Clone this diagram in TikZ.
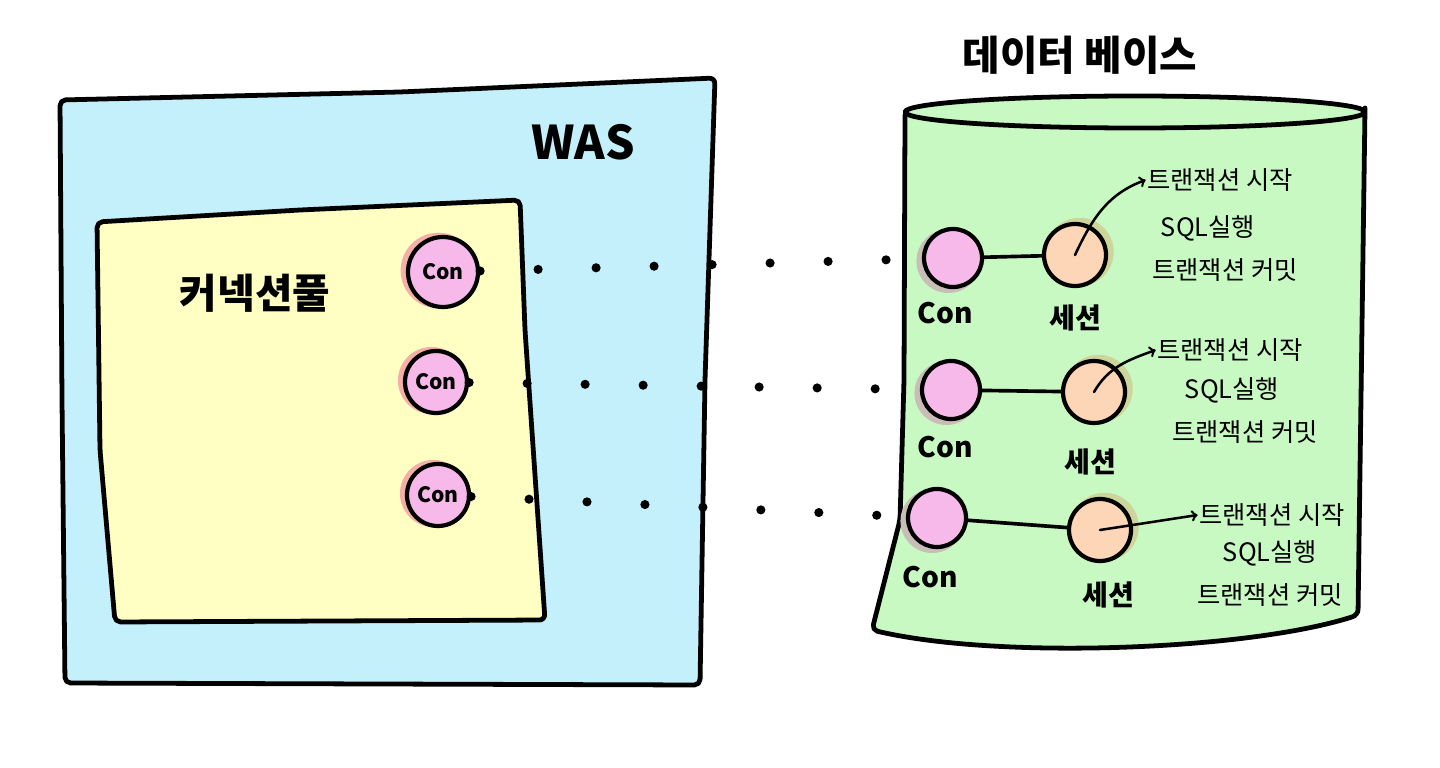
\documentclass[tikz,border=0pt]{standalone}
\usepackage{fontspec}
\newfontfamily\kr{Noto Sans CJK KR}
\usetikzlibrary{shadows}

\definecolor{wasblue}{HTML}{C4F0FC}
\definecolor{poolyellow}{HTML}{FFFFC4}
\definecolor{dbgreen}{HTML}{C9F9C2}
\definecolor{conpink}{HTML}{F7B9EA}
\definecolor{sesspeach}{HTML}{FDD6B8}
\definecolor{poolshade}{HTML}{F4AFA8}
\definecolor{dbshade}{HTML}{C9BDB8}
\definecolor{sessshade}{HTML}{CDD49C}

\begin{document}
\begin{tikzpicture}[x=0.025cm, y=-0.025cm,
        sketch/.style={draw=black, line width=3.4pt, line join=round, line cap=round, rounded corners=4pt},
        poolcon/.style={circle, draw=black, line width=3pt, fill=conpink, inner sep=0pt, font=\kr\bfseries\fontsize{15}{15}\selectfont,
            drop shadow={fill=poolshade, opacity=1, shadow xshift=-3pt, shadow yshift=1pt, shadow scale=1.08}},
        dbcon/.style={circle, draw=black, line width=3pt, fill=conpink, minimum size=1.45cm, inner sep=0pt,
            drop shadow={fill=dbshade, opacity=1, shadow xshift=-3pt, shadow yshift=-2pt, shadow scale=1.1}},
        session/.style={circle, draw=black, line width=3pt, fill=sesspeach, minimum size=1.55cm, inner sep=0pt,
            drop shadow={fill=sessshade, opacity=1, shadow xshift=3pt, shadow yshift=2pt, shadow scale=1.1}},
        biglabel/.style={font=\kr\bfseries\fontsize{29}{29}\selectfont},
        unitlabel/.style={font=\kr\bfseries\fontsize{20}{20}\selectfont},
        txline/.style={font=\kr\fontsize{18}{18}\selectfont, inner sep=1pt},
        dotline/.style={line width=6.5pt, line cap=round, dash pattern=on 0pt off 1.45cm},
        link/.style={line width=2.6pt, line cap=round},
        txarrow/.style={->, line width=1.8pt, line cap=round}
    ]
    \useasboundingbox (0,0) rectangle (1440,768);

    % WAS
    \draw[sketch, fill=wasblue] (60,100) -- (400,92) -- (715,78) -- (705,380) -- (700,685) -- (380,684) -- (65,683) -- (62,400) -- cycle;
    \node[biglabel, font=\kr\bfseries\fontsize{33}{33}\selectfont] (was) at (583,142) {WAS};

    % connection pool
    \draw[sketch, fill=poolyellow] (97,222) -- (300,210) -- (520,200) -- (525,330) -- (545,620) -- (115,622) -- (100,450) -- cycle;
    \node[biglabel] (pool) at (255,293) {커넥션풀};

    \node[poolcon, minimum size=1.75cm] (pc1) at (443,272) {Con};
    \node[poolcon, minimum size=1.55cm] (pc2) at (436,382) {Con};
    \node[poolcon, minimum size=1.55cm] (pc3) at (438,495) {Con};

    % database
    \draw[sketch, fill=dbgreen] (905,115) -- (904,380) -- (900,520) -- (872,630) .. controls (1000,660) and (1250,650) .. (1358,615) -- (1365,108);
    \draw[sketch, fill=dbgreen] (1135,112) ellipse [x radius=230, y radius=16];
    \node[biglabel] (db) at (1080,55) {데이터 베이스};

    \node[dbcon]   (dc1) at (953,258) {};
    \node[session] (s1)  at (1075,255) {};
    \node[unitlabel] (dc1l) at (945,313) {Con};
    \node[unitlabel] (s1l)  at (1075,318) {세션};

    \node[dbcon]   (dc2) at (951,390) {};
    \node[session] (s2)  at (1094,392) {};
    \node[unitlabel] (dc2l) at (945,447) {Con};
    \node[unitlabel] (s2l)  at (1090,462) {세션};

    \node[dbcon]   (dc3) at (937,518) {};
    \node[session] (s3)  at (1100,530) {};
    \node[unitlabel] (dc3l) at (930,577) {Con};
    \node[unitlabel] (s3l)  at (1108,595) {세션};

    \node[txline] (t1a) at (1220,180) {트랜잭션 시작};
    \node[txline] (t1b) at (1208,228) {SQL실행};
    \node[txline] (t1c) at (1225,270) {트랜잭션 커밋};
    \node[txline] (t2a) at (1230,350) {트랜잭션 시작};
    \node[txline] (t2b) at (1232,390) {SQL실행};
    \node[txline] (t2c) at (1245,432) {트랜잭션 커밋};
    \node[txline] (t3a) at (1272,515) {트랜잭션 시작};
    \node[txline] (t3b) at (1270,553) {SQL실행};
    \node[txline] (t3c) at (1270,595) {트랜잭션 커밋};

    % connections
    \draw[dotline] (pc1) -- (dc1);
    \draw[dotline] (pc2) -- (dc2);
    \draw[dotline] (pc3) -- (dc3);

    \draw[link] (dc1) -- (s1);
    \draw[link] (dc2) -- (s2);
    \draw[link] (dc3) -- (s3);

    \draw[txarrow] (s1.center) to[out=65, in=200] (t1a.west);
    \draw[txarrow] (s2.center) to[out=60, in=200] (t2a.west);
    \draw[txarrow] (s3.center) -- (t3a.west);
\end{tikzpicture}
\end{document}
